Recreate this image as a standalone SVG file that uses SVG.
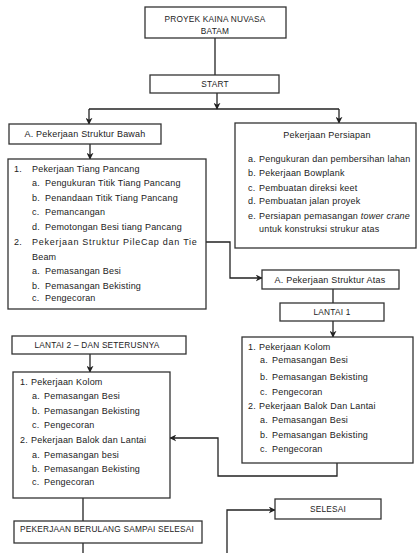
<svg xmlns="http://www.w3.org/2000/svg" width="417" height="553" viewBox="0 0 417 553">
<style>
rect{fill:#fff;stroke:#333;stroke-width:1.3}
text{font-family:"Liberation Sans",Arial,sans-serif;font-size:9px;fill:#222;letter-spacing:0.2px}
.c{text-anchor:middle}
.cap{font-size:8.3px}
#connectors path,#connectors line{fill:none;stroke:#222;stroke-width:1.3}
.a{marker-end:url(#ah)}
</style>
<defs>
<marker id="ah" viewBox="0 0 10 10" refX="9" refY="5" markerWidth="7" markerHeight="7" markerUnits="userSpaceOnUse" orient="auto">
<path d="M0,0 L10,5 L0,10 L3,5 Z" fill="#222"/>
</marker>
</defs>
<rect x="0" y="0" width="417" height="553" style="fill:#fff;stroke:none"/>
<g id="connectors">
<line x1="215" y1="38" x2="215" y2="75"/>
<line class="a" x1="217" y1="93" x2="217" y2="109"/>
<line x1="89" y1="109" x2="339" y2="109"/>
<line class="a" x1="89" y1="109" x2="89" y2="124"/>
<line class="a" x1="339" y1="109" x2="339" y2="123"/>
<line class="a" x1="90" y1="144" x2="90" y2="159"/>
<path class="a" d="M206,242 H230 V278 H262"/>
<line x1="333" y1="289" x2="333" y2="303"/>
<line class="a" x1="333" y1="321" x2="333" y2="337"/>
<path class="a" d="M337,463 V476 H218 V438 H170"/>
<line class="a" x1="90" y1="354" x2="90" y2="372"/>
<line x1="83" y1="498" x2="83" y2="521"/>
<line x1="83" y1="543" x2="83" y2="553"/>
<path class="a" d="M227,553 V510 H275"/>
</g>
<g id="proyek">
<rect x="145" y="7" width="141" height="31"/>
<text class="c cap" x="215" y="22">PROYEK KAINA NUVASA</text>
<text class="c cap" x="215" y="34">BATAM</text>
</g>
<g id="start">
<rect x="150" y="75" width="129" height="18"/>
<text class="c cap" x="215" y="87">START</text>
</g>
<g id="struktur-bawah">
<rect x="9" y="124" width="152" height="20"/>
<text class="c" x="85" y="137">A. Pekerjaan Struktur Bawah</text>
</g>
<g id="bawah-list">
<rect x="8" y="159" width="198" height="150"/>
<text x="14" y="172">1.</text><text x="32" y="172">Pekerjaan Tiang  Pancang</text>
<text x="32" y="186">a.</text><text x="45" y="186">Pengukuran Titik Tiang Pancang</text>
<text x="32" y="201">b.</text><text x="45" y="201">Penandaan Titik Tiang Pancang</text>
<text x="32" y="215">c.</text><text x="45" y="215">Pemancangan</text>
<text x="32" y="230">d.</text><text x="45" y="230">Pemotongan Besi tiang Pancang</text>
<text x="14" y="245">2.</text><text x="32" y="245" textLength="165" lengthAdjust="spacing">Pekerjaan Struktur PileCap dan Tie</text>
<text x="32" y="260">Beam</text>
<text x="32" y="274">a.</text><text x="45" y="274">Pemasangan Besi</text>
<text x="32" y="289">b.</text><text x="45" y="289">Pemasangan Bekisting</text>
<text x="32" y="301">c.</text><text x="45" y="301">Pengecoran</text>
</g>
<g id="persiapan">
<rect x="235" y="123" width="181" height="125"/>
<text class="c" x="327" y="138">Pekerjaan Persiapan</text>
<text x="248" y="162">a.</text><text x="259" y="162">Pengukuran dan pembersihan lahan</text>
<text x="248" y="176">b.</text><text x="259" y="176">Pekerjaan Bowplank</text>
<text x="248" y="191">c.</text><text x="259" y="191">Pembuatan direksi keet</text>
<text x="248" y="204">d.</text><text x="259" y="204">Pembuatan jalan proyek</text>
<text x="248" y="219">e.</text><text x="259" y="219">Persiapan pemasangan <tspan font-style="italic">tower crane</tspan></text>
<text x="259" y="232">untuk konstruksi strukur atas</text>
</g>
<g id="struktur-atas">
<rect x="262" y="270" width="137" height="19"/>
<text class="c" x="330" y="283">A. Pekerjaan Struktur Atas</text>
</g>
<g id="lantai1">
<rect x="280" y="303" width="104" height="18"/>
<text class="c cap" x="332" y="315">LANTAI 1</text>
</g>
<g id="lantai1-list">
<rect x="242" y="337" width="171" height="126"/>
<text x="248" y="350">1.</text><text x="259" y="350">Pekerjaan Kolom</text>
<text x="260" y="363">a.</text><text x="272" y="363">Pemasangan Besi</text>
<text x="260" y="380">b.</text><text x="272" y="380">Pemasangan Bekisting</text>
<text x="260" y="395">c.</text><text x="272" y="395">Pengecoran</text>
<text x="248" y="409">2.</text><text x="259" y="409">Pekerjaan Balok Dan Lantai</text>
<text x="260" y="423">a.</text><text x="272" y="423">Pemasangan Besi</text>
<text x="260" y="438">b.</text><text x="272" y="438">Pemasangan Bekisting</text>
<text x="260" y="452">c.</text><text x="272" y="452">Pengecoran</text>
</g>
<g id="lantai2">
<rect x="12" y="336" width="174" height="18"/>
<text class="c cap" x="97" y="348">LANTAI 2 – DAN SETERUSNYA</text>
</g>
<g id="lantai2-list">
<rect x="13" y="372" width="157" height="126"/>
<text x="20" y="385">1.</text><text x="31" y="385">Pekerjaan Kolom</text>
<text x="32" y="399">a.</text><text x="44" y="399">Pemasangan Besi</text>
<text x="32" y="414">b.</text><text x="44" y="414">Pemasangan Bekisting</text>
<text x="32" y="428">c.</text><text x="44" y="428">Pengecoran</text>
<text x="20" y="443">2.</text><text x="31" y="443">Pekerjaan Balok dan Lantai</text>
<text x="32" y="458">a.</text><text x="44" y="458">Pemasangan besi</text>
<text x="32" y="472">b.</text><text x="44" y="472">Pemasangan Bekisting</text>
<text x="32" y="485">c.</text><text x="44" y="485">Pengecoran</text>
</g>
<g id="berulang">
<rect x="14" y="521" width="188" height="22"/>
<text class="c cap" x="107" y="532">PEKERJAAN BERULANG SAMPAI SELESAI</text>
</g>
<g id="selesai">
<rect x="275" y="499" width="106" height="20"/>
<text class="c cap" x="328" y="512">SELESAI</text>
</g>
</svg>
